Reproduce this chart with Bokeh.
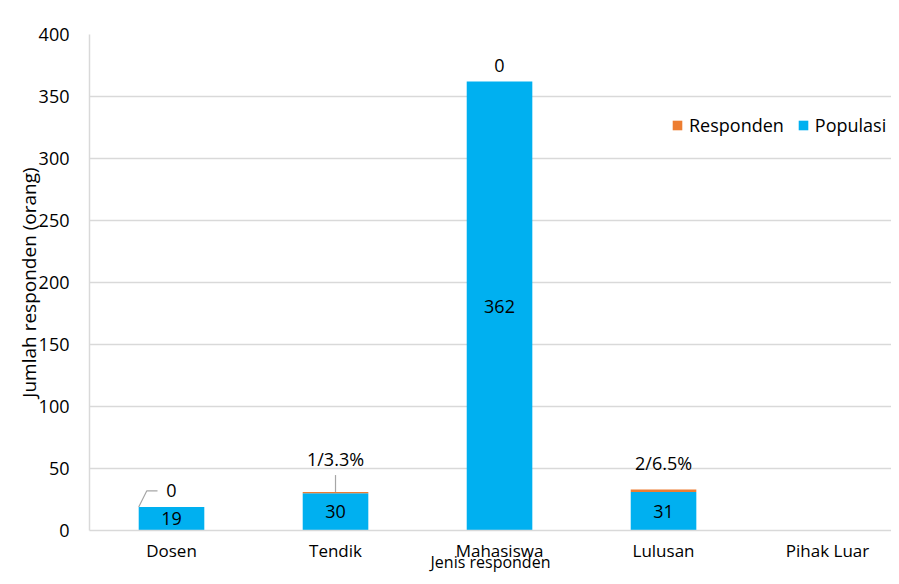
from bokeh.plotting import figure
from bokeh.models import (ColumnDataSource, Range1d, FixedTicker, Legend, LegendItem)
from bokeh.core.properties import value
from bokeh.embed import file_html
from bokeh.resources import INLINE

categories = ["Dosen", "Tendik", "Mahasiswa", "Lulusan", "Pihak Luar"]
populasi = [19, 30, 362, 31, 0]
responden = [0, 1, 0, 2, 0]
responden_labels = ["0", "1/3.3%", "0", "2/6.5%", ""]
populasi_labels = ["19", "30", "362", "31", ""]
y_ticks = [0, 50, 100, 150, 200, 250, 300, 350, 400]
x_title = "Jenis responden"
y_title = "Jumlah responden (orang)"

FONT = "Open Sans"
BLUE = "#00B0F0"
ORANGE = "#ED7D31"
GRID = "#d9d9d9"
FS = "18px"

xs = list(range(len(categories)))
totals = [p + r for p, r in zip(populasi, responden)]

p = figure(width=891, height=576, output_backend="svg", toolbar_location=None,
           x_range=Range1d(-0.5, 4.39), y_range=Range1d(0, 400),
           min_border_left=89, min_border_top=34, min_border_bottom=46, min_border_right=0)
p.outline_line_color = None
p.background_fill_color = "white"
p.border_fill_color = "white"

upp = 400 / 496.0  # data units per pixel (vertical)
xpp = 1 / 164.0    # data units per pixel (horizontal)

bw = 0.4
src = ColumnDataSource(dict(x=xs, pop=populasi, resp=responden, tot=totals,
                            rl=responden_labels, pl=populasi_labels,
                            mid=[v / 2 for v in populasi]))
r_pop = p.vbar(x="x", top="pop", bottom=0, width=bw, source=src,
               fill_color=BLUE, line_color=None)
r_resp = p.vbar(x="x", top="tot", bottom="pop", width=bw, source=src,
                fill_color=ORANGE, line_color=None)

# value labels inside blue bars
p.text(x="x", y="mid", text="pl", source=src, text_align="center",
       text_baseline="middle", text_font=value(FONT), text_font_size=FS,
       text_color="#000000")

# responden labels above bars (pixel offsets)
offs = [-16, -33, -16, -27, 0]
lsrc = ColumnDataSource(dict(x=xs, y=totals, t=responden_labels, yo=offs))
p.text(x="x", y="y", text="t", y_offset="yo", source=lsrc, text_align="center",
       text_baseline="middle", text_font=value(FONT), text_font_size=FS,
       text_color="#000000")

# leader lines
lead_x = [[xs[0] - bw / 2, xs[0] - bw / 2 + 8 * xpp, xs[0] - 14 * xpp],
          [xs[1], xs[1]]]
lead_y = [[totals[0], totals[0] + 16 * upp, totals[0] + 16 * upp],
          [totals[1], totals[1] + 17 * upp]]
p.multi_line(xs=lead_x, ys=lead_y, line_color="#a6a6a6", line_width=1.2)

# axes
p.xaxis.ticker = FixedTicker(ticks=xs)
p.xaxis.major_label_overrides = {i: c for i, c in enumerate(categories)}
p.yaxis.ticker = FixedTicker(ticks=y_ticks)
for ax in (p.xaxis[0], p.yaxis[0]):
    ax.major_tick_line_color = None
    ax.minor_tick_line_color = None
    ax.major_tick_out = 0
    ax.major_tick_in = 0
    ax.minor_tick_out = 0
    ax.axis_line_color = GRID
    ax.axis_line_width = 1.5
    ax.major_label_text_font = FONT
    ax.major_label_text_font_size = FS
    ax.major_label_text_color = "#000000"
    ax.axis_label_text_font = FONT
    ax.axis_label_text_font_size = FS
    ax.axis_label_text_font_style = "normal"
    ax.axis_label_text_color = "#000000"
p.xaxis.major_label_text_font_size = "17px"
p.xaxis.major_label_standoff = 8
p.xaxis.axis_label = x_title
p.xaxis.axis_label_text_font_size = "16px"
p.xaxis.axis_label_standoff = -14
p.yaxis.major_label_standoff = 20
p.yaxis.axis_label = y_title
p.yaxis.axis_label_text_font_size = "19px"
p.yaxis.axis_label_standoff = -6

p.xgrid.grid_line_color = None
p.ygrid.grid_line_color = GRID
p.ygrid.grid_line_width = 1.5

legend = Legend(items=[LegendItem(label="Responden", renderers=[r_resp]),
                       LegendItem(label="Populasi", renderers=[r_pop])],
                orientation="horizontal", location=(578, 389),
                label_text_font=FONT, label_text_font_size=FS,
                label_text_color="#000000", glyph_width=12, glyph_height=12,
                label_standoff=6, spacing=13, padding=4,
                border_line_alpha=0, background_fill_alpha=0)
p.add_layout(legend, "center")

open("out.html", "w").write(file_html(p, INLINE))
